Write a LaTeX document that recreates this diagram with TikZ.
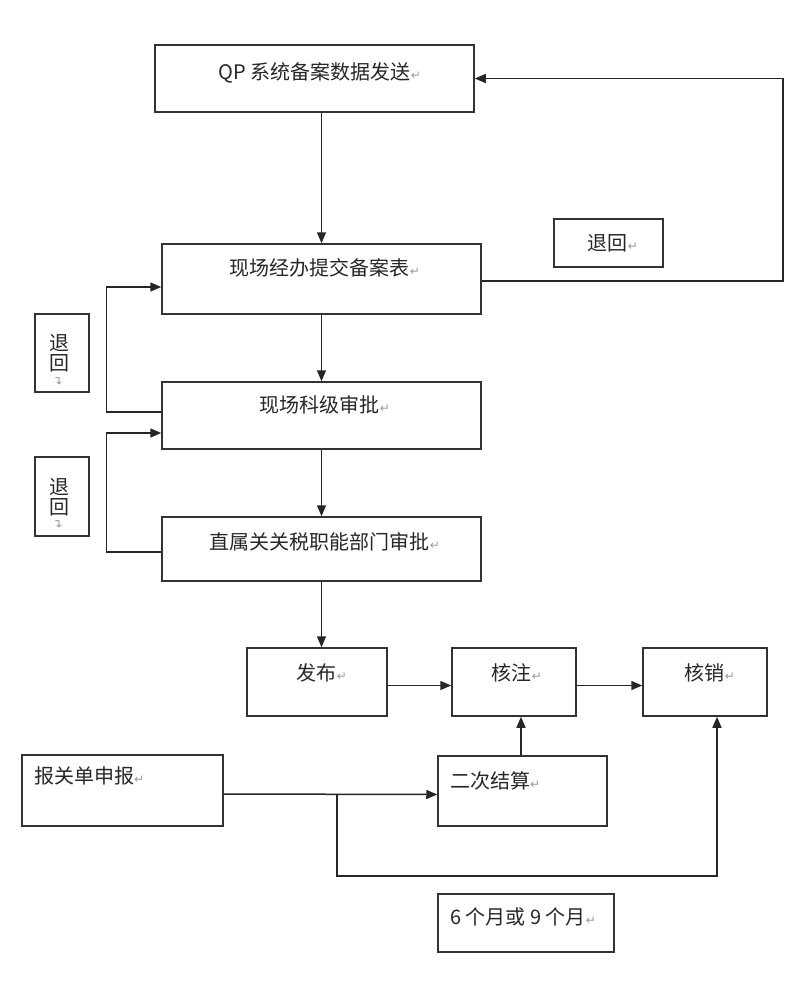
\documentclass[tikz,border=0pt]{standalone}
\usepackage{fontspec}
\usepackage{graphicx}
\usepackage{xcolor}
\setmainfont{Noto Sans CJK SC}
\newfontfamily\retfont{DejaVu Sans}
\usetikzlibrary{arrows.meta}
\newcommand{\ret}{{\retfont\fontsize{12}{12}\selectfont\color{black!40}↵}}

\begin{document}
\begin{tikzpicture}[x=1pt, y=-1pt,
    box/.style={draw=black!80, line width=1.5pt, inner sep=0pt},
    txt/.style={font=\fontsize{20}{20}\selectfont, text=black!85, inner sep=0pt},
    arr/.style={draw=black!85, line width=1.5pt, -{Triangle[length=11pt,width=9pt]}},
    link/.style={draw=black!85, line width=1.5pt}]
        \useasboundingbox (0,0) rectangle (799,1005);

        % QP
        \node[box, minimum width=319pt, minimum height=67pt] (qp) at (314.5,78.5) {};
        \node[txt] (qptext) at (320,73) {QP 系统备案数据发送\ret};

        % submit
        \node[box, minimum width=319pt, minimum height=70pt] (submit) at (321.5,279) {};
        \node[txt] (submittext) at (325,268) {现场经办提交备案表\ret};

        % section approval
        \node[box, minimum width=319pt, minimum height=67pt] (section) at (321.5,415.5) {};
        \node[txt] (sectiontext) at (325,405) {现场科级审批\ret};

        % customs approval
        \node[box, minimum width=319pt, minimum height=64pt] (customs) at (321.5,549) {};
        \node[txt] (customstext) at (325,542) {直属关关税职能部门审批\ret};

        % return notes
        \node[box, minimum width=109pt, minimum height=48pt] (backright) at (608.5,243) {};
        \node[txt] (backrighttext) at (613,243) {退回\ret};
        \node[box, minimum width=54pt, minimum height=78pt] (backone) at (62,353) {};
        \node[txt, align=center] (backonetext) at (59,353) {退\\回};
        \node[rotate=90, inner sep=0pt] (backonemark) at (59,380) {\ret};
        \node[box, minimum width=54pt, minimum height=79pt] (backtwo) at (62,496.5) {};
        \node[txt, align=center] (backtwotext) at (59,497) {退\\回};
        \node[rotate=90, inner sep=0pt] (backtwomark) at (59,523) {\ret};

        % release, record, write-off
        \node[box, minimum width=140pt, minimum height=68pt] (release) at (317,682) {};
        \node[txt] (releasetext) at (322,673) {发布\ret};
        \node[box, minimum width=124pt, minimum height=68pt] (record) at (514,682) {};
        \node[txt] (recordtext) at (517,673) {核注\ret};
        \node[box, minimum width=124pt, minimum height=68pt] (writeoff) at (705,682) {};
        \node[txt] (writeofftext) at (710,673) {核销\ret};

        % declaration, settlement, period
        \node[box, minimum width=201pt, minimum height=71pt] (declare) at (122.5,790.5) {};
        \node[txt, anchor=west] (declaretext) at (34,776) {报关单申报\ret};
        \node[box, minimum width=169pt, minimum height=70pt] (settle) at (522.5,791) {};
        \node[txt, anchor=west] (settletext) at (450,781) {二次结算\ret};
        \node[box, minimum width=176pt, minimum height=58pt] (period) at (526,923) {};
        \node[txt, anchor=west] (periodtext) at (450,917) {6 个月或 9 个月\ret};

        % main flow
        \draw[arr] (submit.north |- qp.south) -- (submit.north);
        \draw[arr] (submit.south) -- (section.north);
        \draw[arr] (section.south) -- (customs.north);
        \draw[arr] (customs.south) -- (customs.south |- release.north);

        % returns
        \draw[arr] ([yshift=-2pt]submit.east) -- ++(301,0) |- (qp.east);
        \draw[arr] ([yshift=3.5pt]section.west) -- ++(-55,0) |- ([yshift=-8pt]submit.west);
        \draw[arr] ([yshift=-3pt]customs.west) -- ++(-55,0) |- ([yshift=-17.5pt]section.west);

        % bottom row
        \draw[arr] ([yshift=-3.5pt]release.east) -- ([yshift=-3.5pt]record.west);
        \draw[arr] ([yshift=-3.5pt]record.east) -- ([yshift=-3.5pt]writeoff.west);
        \draw[arr] ([xshift=-1.5pt]settle.north) -- ([xshift=-1.5pt]settle.north |- record.south);
        \draw[arr] ([yshift=-3.5pt]declare.east) -- ([yshift=-3.5pt]settle.west);
        \path ([yshift=-3.5pt]declare.east) ++(113,0) coordinate (fork);
        \draw[arr] (fork) -- ++(0,82) -| ([xshift=12pt]writeoff.south);
    \end{tikzpicture}
\end{document}
